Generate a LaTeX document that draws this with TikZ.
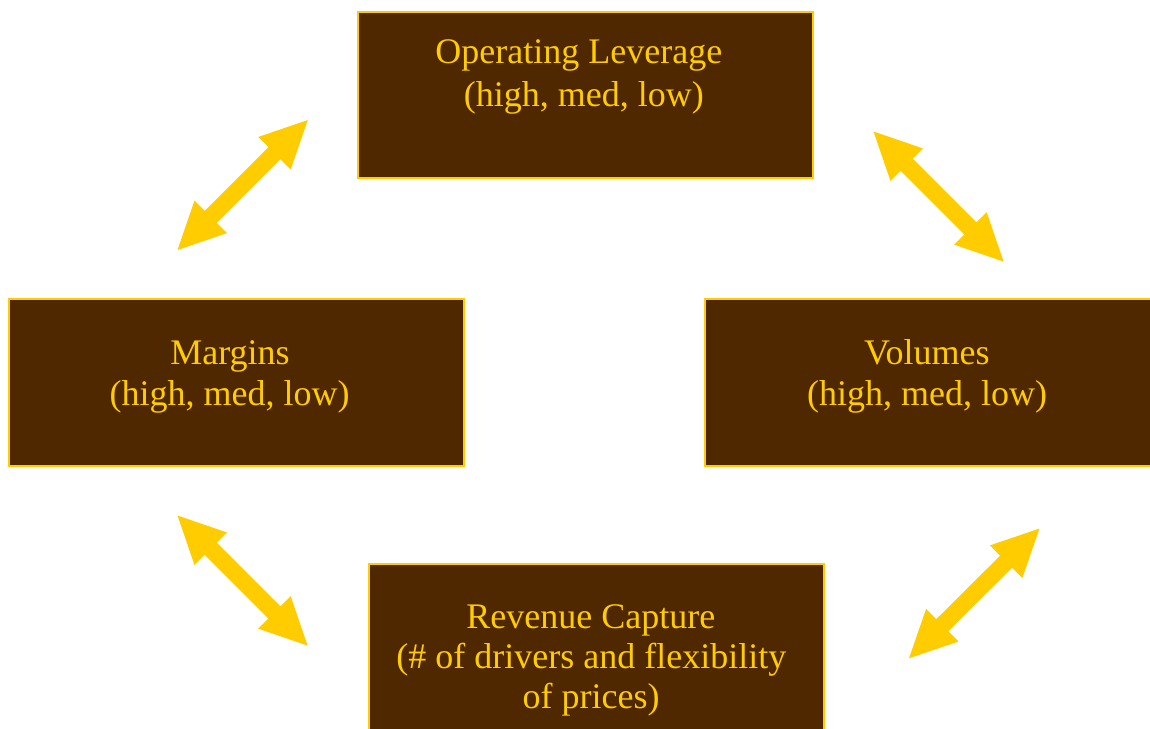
\documentclass[tikz,border=0pt]{standalone}
\usepackage{fontspec}
\setmainfont{Liberation Serif}
\usetikzlibrary{calc}
\definecolor{boxbrown}{RGB}{80,40,0}
\definecolor{gold}{RGB}{255,204,0}
\tikzset{
  box/.style={draw=gold, fill=boxbrown, line width=2pt, minimum width=455pt, minimum height=166.5pt, inner sep=0pt},
  txt/.style={text=gold, font=\fontsize{36}{41}\selectfont, anchor=base, inner sep=0pt},
  bigarrow/.style={fill=gold}
}
\newcommand{\dblarrow}[2]{%
  \pgfmathanglebetweenpoints{\pgfpointanchor{#1}{center}}{\pgfpointanchor{#2}{center}}%
  \edef\arrang{\pgfmathresult}%
  \begin{scope}[shift={(#1)}, rotate=\arrang]
    \fill[bigarrow] (0,0) -- (47,23) -- (47,8.5) -- (137,8.5) -- (137,23) -- (184,0)
      -- (137,-23) -- (137,-8.5) -- (47,-8.5) -- (47,-23) -- cycle;
  \end{scope}}
\begin{document}
\begin{tikzpicture}[x=1pt,y=-1pt]
\useasboundingbox (0,0) rectangle (1150,728);
% boxes
\node[box] (lev) at (585,94.85) {};
\node[box] (mar) at (236.7,382.5) {};
\node[box] (vol) at (932.5,382.5) {};
\node[box] (rev) at (596.7,647) {};
% texts
\node[txt] (lev1) at (578.8,63) {Operating Leverage};
\node[txt] (lev2) at (583.8,106) {(high, med, low)};
\node[txt] (mar1) at (230,364) {Margins};
\node[txt] (mar2) at (229.7,405) {(high, med, low)};
\node[txt] (vol1) at (926.8,364) {Volumes};
\node[txt] (vol2) at (927,405) {(high, med, low)};
\node[txt] (rev1) at (590.8,628) {Revenue Capture};
\node[txt] (rev2) at (591.3,668) {(\# of drivers and flexibility};
\node[txt] (rev3) at (591.2,708) {of prices)};
% arrow end points
\coordinate (a1s) at (177.5,250);
\coordinate (a1e) at (308.3,119.5);
\coordinate (a2s) at (873.5,131.5);
\coordinate (a2e) at (1004,262);
\coordinate (a3s) at (177.5,515.5);
\coordinate (a3e) at (308,646);
\coordinate (a4s) at (909,658.3);
\coordinate (a4e) at (1040.5,527.5);
\dblarrow{a1s}{a1e}
\dblarrow{a2s}{a2e}
\dblarrow{a3s}{a3e}
\dblarrow{a4s}{a4e}
\end{tikzpicture}
\end{document}
